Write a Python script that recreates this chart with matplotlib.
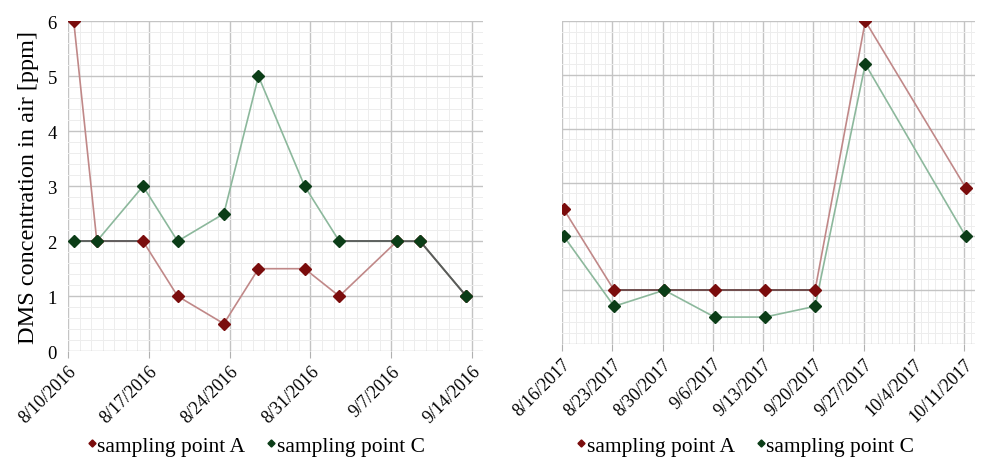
import matplotlib
matplotlib.use("Agg")
import matplotlib.pyplot as plt
import matplotlib.dates as mdates
import pandas as pd
from matplotlib.ticker import MultipleLocator

# 2016 campaign
dates_2016 = pd.to_datetime(["2016-08-10 12:00", "2016-08-12 12:00", "2016-08-16 12:00",
                             "2016-08-19 12:00", "2016-08-23 12:00", "2016-08-26 12:00",
                             "2016-08-30 12:00", "2016-09-02 12:00", "2016-09-07 12:00",
                             "2016-09-09 12:00", "2016-09-13 12:00"])
a_2016 = [6, 2, 2, 1, 0.5, 1.5, 1.5, 1, 2, 2, 1]
c_2016 = [2, 2, 3, 2, 2.5, 5, 3, 2, 2, 2, 1]
ticks_2016 = pd.to_datetime(["2016-08-10", "2016-08-17", "2016-08-24",
                             "2016-08-31", "2016-09-07", "2016-09-14"])

# 2017 campaign
dates_2017 = pd.to_datetime(["2017-08-16 06:00", "2017-08-23 06:00", "2017-08-30 06:00",
                             "2017-09-06 06:00", "2017-09-13 06:00", "2017-09-20 06:00",
                             "2017-09-27 06:00", "2017-10-11 06:00"])
a_2017 = [2.5, 1, 1, 1, 1, 1, 6, 2.9]
c_2017 = [2.0, 0.7, 1, 0.5, 0.5, 0.7, 5.2, 2.0]
ticks_2017 = pd.to_datetime(["2017-08-16", "2017-08-23", "2017-08-30", "2017-09-06",
                             "2017-09-13", "2017-09-20", "2017-09-27", "2017-10-04",
                             "2017-10-11"])

plt.rcParams['font.family'] = ['Liberation Serif', 'DejaVu Serif']

red_mk, red_ln = "#7a0c0c", "#c08888"
grn_mk, grn_ln = "#0b3d17", "#8cb89c"
dark_ln = "#5a5a5a"

fig = plt.figure(figsize=(9.85, 4.64), dpi=100)
ax1 = fig.add_axes([0.069, 0.241, 0.421, 0.711])
ax2 = fig.add_axes([0.5706, 0.2565, 0.419, 0.696])


def style(ax, ticks, xmin, xmax):
    ax.set_ylim(0, 6)
    ax.set_xlim(xmin, xmax)
    ax.set_xticks(ticks)
    ax.set_xticklabels([f"{d.month}/{d.day}/{d.year}" for d in ticks],
                       rotation=45, ha="right", rotation_mode="anchor", fontsize=13)
    ax.xaxis.set_minor_locator(mdates.DayLocator())
    ax.yaxis.set_major_locator(MultipleLocator(1))
    ax.yaxis.set_minor_locator(MultipleLocator(0.2))
    ax.grid(which="major", color="#c4c4c4", lw=1.0)
    ax.grid(which="minor", color="#ededed", lw=0.7)
    ax.set_axisbelow(True)
    for s in ax.spines.values():
        s.set_visible(False)
    ax.tick_params(axis="x", which="major", length=5, color="#b0b0b0", pad=3)
    ax.tick_params(axis="x", which="minor", length=0)
    ax.tick_params(axis="y", which="both", length=0, labelsize=13.5, pad=8)


def series(ax, x, a, c):
    ax.plot(x, a, color=red_ln, lw=1.2, zorder=2)
    ax.plot(x, c, color=grn_ln, lw=1.2, zorder=2)
    ax.plot(x, a, ls="none", marker="D", ms=6, color=red_mk, zorder=3,
            label="sampling point A")
    ax.plot(x, c, ls="none", marker="D", ms=6, color=grn_mk, zorder=4,
            label="sampling point C")


style(ax1, ticks_2016, pd.Timestamp("2016-08-10"), pd.Timestamp("2016-09-14 22:00"))
style(ax2, ticks_2017, pd.Timestamp("2017-08-16"), pd.Timestamp("2017-10-12 12:00"))
series(ax1, dates_2016, a_2016, c_2016)
series(ax2, dates_2017, a_2017, c_2017)

# flat stretches at the same level read as a dark line
for seg in ((0, 2), (1, 3), (7, 9), (8, 11)):
    i, j = seg
    src = c_2016 if seg != (1, 3) else a_2016
    ax1.plot(dates_2016[i:j], src[i:j], color=dark_ln, lw=1.3, zorder=2)
ax2.plot(dates_2017[1:6], a_2017[1:6], color="#6a4848", lw=1.3, zorder=2)

ax1.set_ylabel("DMS concentration in air [ppm]", fontsize=17.5, labelpad=6)
ax2.set_yticklabels([])

for ax, cx in ((ax1, 0.26), (ax2, 0.757)):
    fig.legend(handles=[l for l in ax.get_lines() if l.get_label().startswith("sampling")],
               loc="center", bbox_to_anchor=(cx, 0.037), ncol=2, frameon=False,
               fontsize=15.5, handlelength=0.4, handletextpad=0.05, columnspacing=1.0,
               markerscale=0.6)

fig.savefig("out.png", dpi=100)
